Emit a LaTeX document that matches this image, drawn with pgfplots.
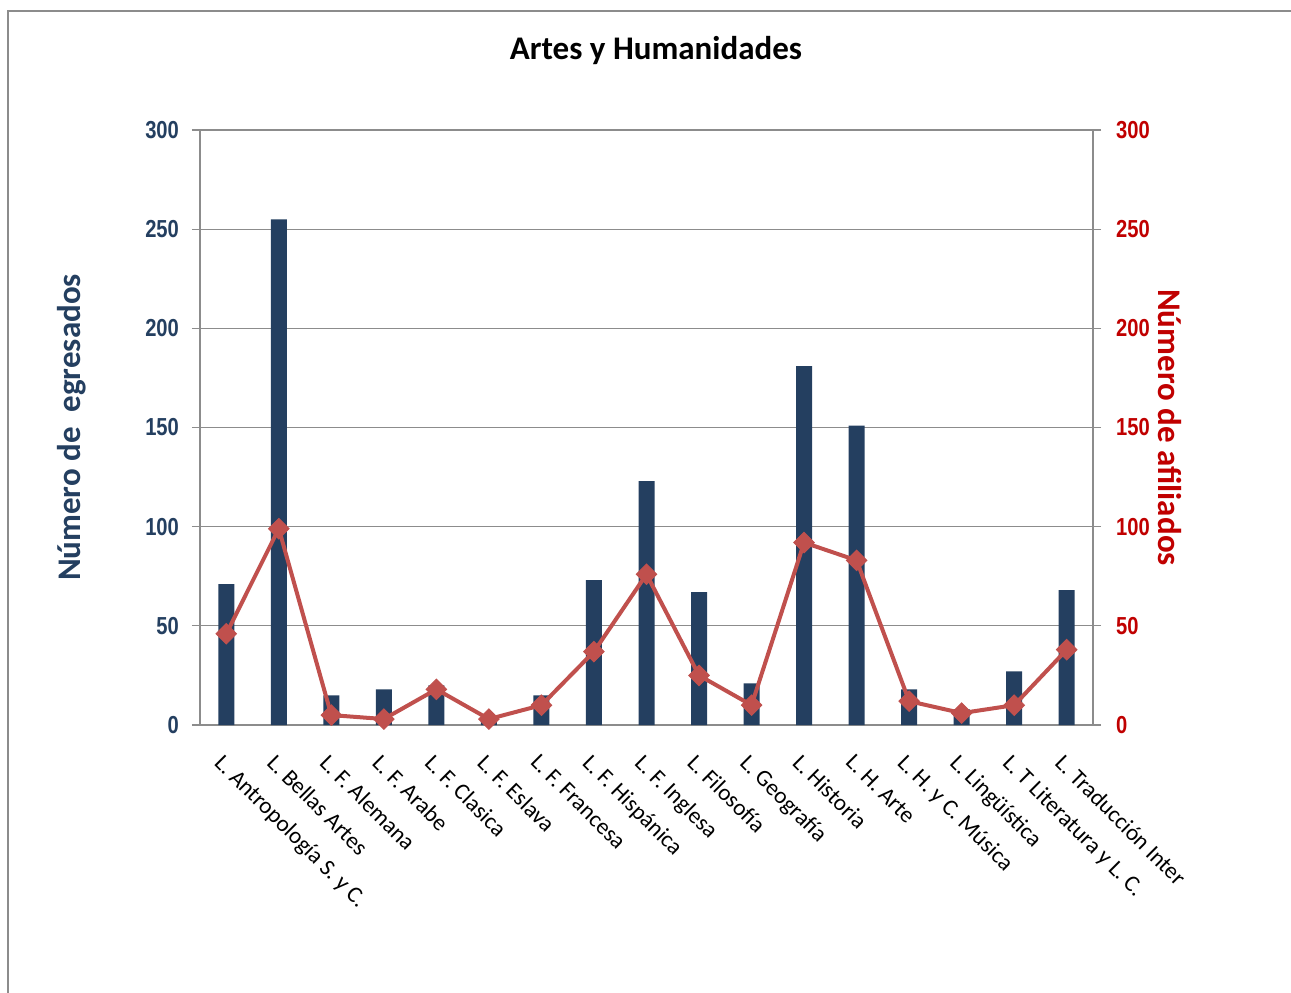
\documentclass[border=0pt]{standalone}
\usepackage{fontspec}
\setmainfont{Carlito}
\newfontfamily\narrow[FakeStretch=0.82]{Liberation Sans}
\usepackage{pgfplots}
\pgfplotsset{compat=1.18}

\definecolor{navy}{HTML}{243F60}
\definecolor{redline}{HTML}{C0504D}
\definecolor{redaxis}{HTML}{C00000}
\definecolor{axgray}{HTML}{8C8C8C}
\definecolor{framegray}{HTML}{8C8C8C}

\pgfplotsset{
  base/.style={
    scale only axis, width=446.5pt, height=297.5pt,
    at={(0pt,0pt)}, anchor=south west,
    xmin=-0.5, xmax=16.5, ymin=0, ymax=300,
    ytick={0,50,...,300},
    /pgf/number format/assume math mode=true,
    tick align=outside, major tick length=4pt,
    axis line style={draw=axgray, line width=0.6pt},
    tick style={draw=axgray, line width=0.6pt},
    yticklabel style={font=\narrow\bfseries\fontsize{12.3}{14}\selectfont},
  }
}

\begin{document}
\begin{tikzpicture}
\begin{axis}[base,
    axis y line*=left, axis x line*=bottom,
    ymajorgrids, grid style={draw=axgray, line width=0.6pt},
    xtick={0,...,16},
    x tick style={draw=none},
    xticklabels={L. Antropología S. y C., L. Bellas Artes, L. F. Alemana, L. F. Arabe,
      L. F. Clasica, L. F. Eslava, L. F. Francesa, L. F. Hispánica, L. F. Inglesa,
      L. Filosofía, L. Geografía, L. Historia, L. H. Arte, L. H. y C. Música,
      L. Lingüística, L. T Literatura y L. C., L. Traducción Inter},
    xticklabel style={font=\fontsize{11.6}{13}\selectfont, rotate=-45, anchor=north west, xshift=3pt, yshift=-4pt},
    yticklabel style={text=navy, xshift=-3pt},
    every axis y label/.style={at={(axis description cs:-0.1433,0.5)}, rotate=90, anchor=center},
    ylabel={Número de\ \ egresados},
    ylabel style={text=navy, font=\bfseries\fontsize{16.5}{18}\selectfont},
]
\addplot[ybar, bar width=8pt, fill=navy, draw=none] coordinates {
  (0,71) (1,255) (2,15) (3,18) (4,20) (5,5) (6,15) (7,73) (8,123)
  (9,67) (10,21) (11,181) (12,151) (13,18) (14,8) (15,27) (16,68)};
\end{axis}
\begin{axis}[base,
    axis y line*=right, axis x line=none,
    yticklabel style={text=redaxis, xshift=4pt},
    every axis y label/.style={at={(axis description cs:1.0862,0.5)}, rotate=-90, anchor=center},
    ylabel={Número de afiliados},
    ylabel style={text=redaxis, font=\bfseries\fontsize{16.5}{18}\selectfont},
]
\addplot[color=redline, line width=2pt, mark=square*, mark size=3.6pt,
  mark options={rotate=45, fill=redline, draw=redline, line width=0.5pt}] coordinates {
  (0,46) (1,99) (2,5) (3,3) (4,18) (5,3) (6,10) (7,37) (8,76)
  (9,25) (10,10) (11,92) (12,83) (13,12) (14,6) (15,10) (16,38)};
\end{axis}
\node[font=\bfseries\fontsize{16.5}{18}\selectfont] at (228pt,337pt) {Artes y Humanidades};
\draw[framegray, line width=1pt] (560pt,357pt) -- (-96pt,357pt) -- (-96pt,-140pt);
\pgfresetboundingbox
\path[use as bounding box] (-100pt,-133.5pt) rectangle (545.5pt,362.5pt);
\end{tikzpicture}
\end{document}
